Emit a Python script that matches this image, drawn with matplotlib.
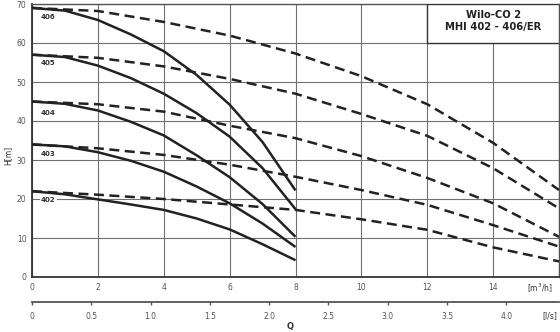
import matplotlib
matplotlib.use("Agg")
import matplotlib.pyplot as plt
from matplotlib.patches import Rectangle

plt.rcParams['font.family'] = ['DejaVu Sans']

# ---- data ----
q_single = [0, 1, 2, 3, 4, 5, 6, 7, 8]          # m3/h, one pump
q_double = [0, 2, 4, 6, 8, 10, 12, 14, 16]      # m3/h, two pumps

pump_labels = ["406", "405", "404", "403", "402"]

h_single = {
    "406": [69.0, 68.3, 65.9, 62.2, 57.9, 51.8, 44.2, 34.6, 22.2],
    "405": [57.0, 56.4, 54.2, 51.0, 47.0, 42.0, 36.0, 27.9, 17.4],
    "404": [45.0, 44.4, 42.7, 39.8, 36.3, 31.2, 25.6, 18.7, 10.3],
    "403": [34.0, 33.5, 32.0, 29.8, 27.0, 23.2, 18.9, 13.7, 7.7],
    "402": [22.0, 21.2, 19.9, 18.6, 17.2, 15.0, 12.2, 8.4, 4.3],
}
h_double = {
    "406": [69.0, 68.2, 65.4, 61.9, 57.3, 51.5, 44.3, 34.4, 22.3],
    "405": [57.0, 56.2, 54.0, 50.8, 47.0, 41.8, 36.2, 27.9, 17.6],
    "404": [45.0, 44.3, 42.4, 38.8, 35.6, 31.0, 25.4, 18.9, 10.3],
    "403": [34.0, 33.0, 31.3, 28.8, 25.7, 22.3, 18.5, 13.3, 7.8],
    "402": [22.0, 21.1, 20.0, 18.6, 17.2, 14.8, 12.1, 7.6, 4.0],
}
label_pos = {"406": 66.7, "405": 54.9, "404": 42.0, "403": 31.5, "402": 19.7}

x_ticks = [0, 2, 4, 6, 8, 10, 12, 14]
y_ticks = [0, 10, 20, 30, 40, 50, 60, 70]
ls_ticks = [0, 0.5, 1.0, 1.5, 2.0, 2.5, 3.0, 3.5, 4.0]
ls_labels = ["0", "0.5", "1.0", "1.5", "2.0", "2.5", "3.0", "3.5", "4.0"]
title_lines = ["Wilo-CO 2", "MHI 402 - 406/ER"]

# ---- figure ----
W, H = 560, 332
fig = plt.figure(figsize=(W / 100, H / 100), dpi=100)
ax = fig.add_axes([32 / W, 1 - 277 / H, (559 - 32) / W, (277 - 4) / H])
ax.set_xlim(0, 16)
ax.set_ylim(0, 70)

grid_c = "#707070"
tick_c = "#555555"
line_c = "#222222"

ax.set_xticks(x_ticks + [16])
ax.set_xticklabels([str(t) for t in x_ticks] + [""])
ax.set_yticks(y_ticks)
ax.set_yticklabels([str(t) for t in y_ticks])
ax.grid(True, color=grid_c, lw=0.8)
ax.set_axisbelow(True)
ax.tick_params(length=0, labelsize=5.5, colors=tick_c, pad=4)
for s in ax.spines.values():
    s.set_color("#555555")
    s.set_linewidth(1.0)
ax.spines["left"].set_color("#333333")
ax.spines["bottom"].set_color("#333333")
ax.spines["left"].set_linewidth(1.3)
ax.spines["bottom"].set_linewidth(1.3)

for name in pump_labels:
    ax.plot(q_single, h_single[name], color=line_c, lw=1.8, solid_capstyle="butt",
            solid_joinstyle="round", zorder=3)
    ax.plot(q_double, h_double[name], color=line_c, lw=1.8, dashes=(4, 2.2), zorder=3)
    ax.text(0.27, label_pos[name], name, fontsize=5, fontweight="bold", color="#333333",
            ha="left", va="center", zorder=4,
            bbox=dict(boxstyle="square,pad=0.15", fc="white", ec="none"))

# title box
ax.add_patch(Rectangle((12, 60), 4, 10, fc="white", ec="#333333", lw=1.0, zorder=5))
ax.text(14, 67.2, title_lines[0], ha="center", va="center", fontsize=7.2,
        fontweight="bold", color="#222222", zorder=6)
ax.text(14, 64.1, title_lines[1], ha="center", va="center", fontsize=7.2,
        fontweight="bold", color="#222222", zorder=6)

# axis labels / units
fig.text(8 / W, 1 - 155 / H, "H[m]", rotation=90, ha="center", va="center",
         fontsize=5.5, color="#333333")
fig.text(540 / W, 1 - 288 / H, "[m$^3$/h]", ha="center", va="center",
         fontsize=5.5, color="#333333")

# secondary l/s axis
ax2 = fig.add_axes([32 / W, 1 - 302 / H, (559 - 32) / W, 0.001])
ax2.set_xlim(0, 16 / 3.6)
ax2.set_ylim(0, 1)
for side in ["top", "left", "right"]:
    ax2.spines[side].set_visible(False)
ax2.spines["bottom"].set_color("#555555")
ax2.spines["bottom"].set_linewidth(1.3)
ax2.set_yticks([])
ax2.set_xticks(ls_ticks)
ax2.set_xticklabels(ls_labels)
ax2.tick_params(axis="x", direction="out", length=2.5, width=1.0, colors=tick_c,
                labelsize=5.5, pad=5)
ax2.patch.set_visible(False)
fig.text(550 / W, 1 - 316 / H, "[l/s]", ha="center", va="center",
         fontsize=5.5, color="#333333")
fig.text(290 / W, 1 - 326 / H, "Q", ha="center", va="center",
         fontsize=6, fontweight="bold", color="#333333")

fig.savefig("out.png", dpi=100)
